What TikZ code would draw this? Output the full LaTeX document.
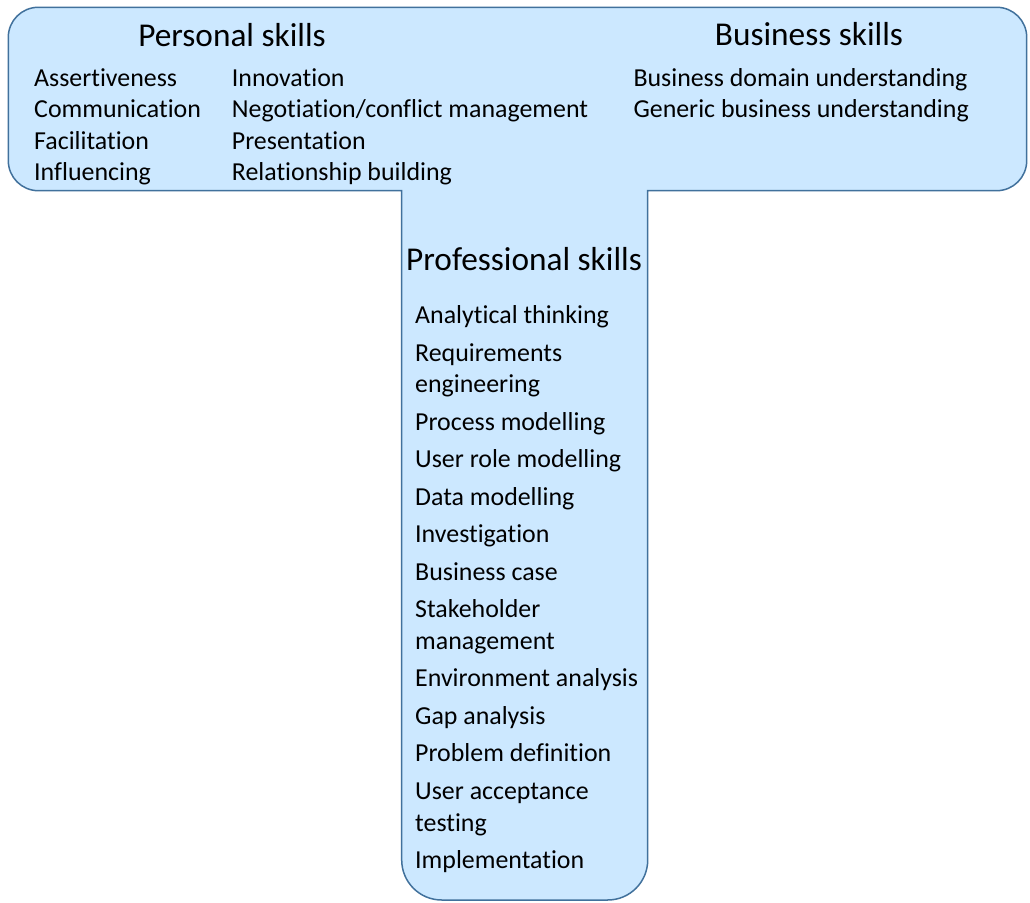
\documentclass[tikz,border=0pt]{standalone}
\usepackage{fontspec}
\setmainfont{Carlito}[Ligatures={NoCommon,NoContextual}]
\definecolor{tfill}{RGB}{204,232,255}
\definecolor{tline}{RGB}{65,113,156}
\begin{document}
\begin{tikzpicture}[x=1pt,y=1pt,
  item/.style={anchor=base west,inner sep=0pt,font=\fontsize{25.9pt}{31.5pt}\selectfont},
  heading/.style={anchor=base,inner sep=0pt,font=\fontsize{33.3pt}{40pt}\selectfont}]
\useasboundingbox[fill=white] (0,0) rectangle (1030,902);
% T shape
\draw[line width=1.5pt,draw=tline,fill=tfill]
  (401.7,711.3) -- (38.3,711.3) arc[start angle=270,end angle=180,radius=30pt]
  -- (8.3,864.7) arc[start angle=180,end angle=90,radius=30pt]
  -- (996.7,894.7) arc[start angle=90,end angle=0,radius=30pt]
  -- (1026.7,741.3) arc[start angle=0,end angle=-90,radius=30pt]
  -- (647.7,711.3) -- (647.7,42) arc[start angle=0,end angle=-90,radius=40pt]
  -- (441.7,2) arc[start angle=270,end angle=180,radius=40pt] -- cycle;
% headings
\node[heading] (hpers) at (232,855.3) {Personal skills};
\node[heading] (hbus) at (809,856) {Business skills};
\node[heading] (hprof) at (524,631.3) {Professional skills};
% personal skills
\node[item] (p1) at (34,815.5) {Assertiveness};
\node[item] (p2) at (34,784) {Communication};
\node[item] (p3) at (34,752.5) {Facilitation};
\node[item] (p4) at (34,721) {Influencing};
\node[item] (p5) at (231.7,815.5) {Innovation};
\node[item] (p6) at (231.7,784) {Negotiation/conflict management};
\node[item] (p7) at (231.7,752.5) {Presentation};
\node[item] (p8) at (231.7,721) {Relationship building};
% business skills
\node[item] (b1) at (633.3,815.5) {Business domain understanding};
\node[item] (b2) at (633.3,784.5) {Generic business understanding};
% professional skills
\node[item] (s1) at (415,578) {Analytical thinking};
\node[item] (s2a) at (415,540.5) {Requirements};
\node[item] (s2b) at (415,509) {engineering};
\node[item] (s3) at (415,471.5) {Process modelling};
\node[item] (s4) at (415,434) {User role modelling};
\node[item] (s5) at (415,396.5) {Data modelling};
\node[item] (s6) at (415,359) {Investigation};
\node[item] (s7) at (415,321.5) {Business case};
\node[item] (s8a) at (415,284) {Stakeholder};
\node[item] (s8b) at (415,252.5) {management};
\node[item] (s9) at (415,215) {Environment analysis};
\node[item] (s10) at (415,177.5) {Gap analysis};
\node[item] (s11) at (415,140) {Problem definition};
\node[item] (s12a) at (415,102.5) {User acceptance};
\node[item] (s12b) at (415,71) {testing};
\node[item] (s13) at (415,33.5) {Implementation};
\end{tikzpicture}
\end{document}
